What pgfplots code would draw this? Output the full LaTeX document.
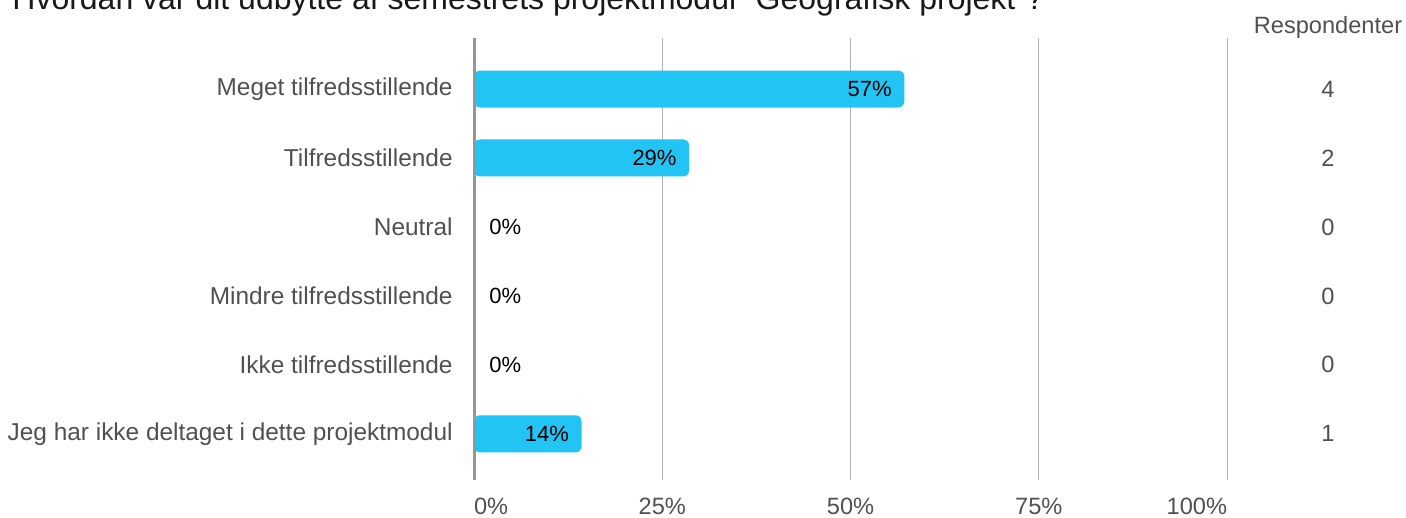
\documentclass[border=0pt]{standalone}
\usepackage{pgfplots}
\pgfplotsset{compat=1.18}
\usepackage{pgfplotstable}
\usepackage{fontspec}
\setmainfont{Liberation Sans}
\definecolor{barc}{RGB}{34,196,243}
\definecolor{txtg}{RGB}{80,80,80}
\definecolor{gridg}{RGB}{178,178,178}
\definecolor{axg}{RGB}{150,150,150}

\pgfplotstableread{
y  pct    resp
5  57.14  4
4  28.57  2
3  0      0
2  0      0
1  0      0
0  14.29  1
}\datatable

\begin{document}
\begin{tikzpicture}[x=1pt,y=1pt]
\useasboundingbox (0,0) rectangle (703,259);
\node[anchor=base west, inner sep=0pt, font=\fontsize{16}{19}\selectfont, text=black!90] at (6,254)
  {Hvordan var dit udbytte af semestrets projektmodul "Geografisk projekt"?};
\node[font=\fontsize{11.8}{14}\selectfont, text=txtg] at (664,245.5) {Respondenter};
\begin{axis}[
  at={(237pt,19pt)}, anchor=south west,
  scale only axis, width=376.5pt, height=221pt,
  xmin=0, xmax=100, ymin=-0.67, ymax=5.74,
  axis line style={draw=none},
  major tick length=0pt,
  xtick={0,25,50,75,100},
  xticklabels={\makebox[0pt][l]{0\%},25\%,50\%,75\%,\makebox[0pt][r]{100\%}},
  ytick={0,1,2,3,4,5},
  yticklabels={Jeg har ikke deltaget i dette projektmodul, Ikke tilfredsstillende, Mindre tilfredsstillende, Neutral, Tilfredsstillende, Meget tilfredsstillende},
  xmajorgrids, grid style={gridg, line width=0.5pt},
  clip=false,
  tick label style={font=\fontsize{11.8}{14}\selectfont, text=txtg},
  yticklabel style={anchor=east, inner sep=0pt, xshift=-10.5pt, font=\fontsize{12.2}{14}\selectfont},
  xticklabel style={anchor=center, inner sep=0pt, yshift=-13pt},
]
\addplot[xbar, bar width=18.5pt, fill=barc, draw=none, rounded corners=3pt,
  visualization depends on={rawx \as \rawx},
  point meta=x,
  nodes near coords={\ifdim\rawx pt>0.5pt \makebox[0pt][r]{\pgfmathprintnumber[fixed,precision=0,assume math mode=true]{\pgfplotspointmeta}\%\hspace{7pt}}\else\makebox[0pt][l]{\hspace{7pt}\pgfmathprintnumber[fixed,precision=0,assume math mode=true]{\pgfplotspointmeta}\%}\fi},
  every node near coord/.append style={font=\fontsize{11}{13}\selectfont, text=black, inner sep=0pt}
] table[x=pct, y=y] {\datatable};
\addplot[draw=none, mark=none, point meta=explicit symbolic,
  nodes near coords, every node near coord/.append style={anchor=center, inner sep=0pt, font=\fontsize{11.8}{14}\selectfont, text=txtg}
] table[x expr=113.4, y=y, meta=resp] {\datatable};
\draw[axg, line width=1.5pt] (axis cs:0,-0.67) -- (axis cs:0,5.74);
\end{axis}
\end{tikzpicture}
\end{document}
